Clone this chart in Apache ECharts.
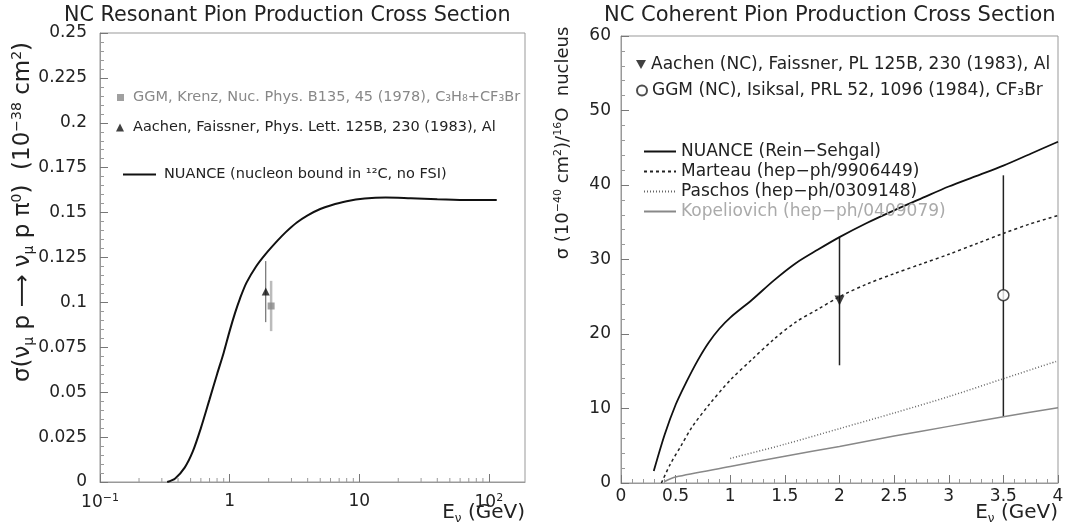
<!DOCTYPE html>
<html>
<head>
<meta charset="utf-8">
<script src="https://cdn.jsdelivr.net/npm/echarts@6/dist/echarts.min.js"></script>
<style>html,body{margin:0;padding:0;background:#fff}#c{width:1067px;height:527px}</style>
</head>
<body>
<div id="c"></div>
<script>
// ---------- Left panel: NC resonant ----------
const resE      = [0.33, 0.38, 0.45, 0.52, 0.6, 0.7, 0.8, 0.9, 1.0, 1.1, 1.2, 1.35, 1.6, 1.9, 2.35, 2.7, 3.3, 4.0, 5.0, 6.0, 8.0, 11, 16, 25, 40, 70, 115];
const resNuance = [0, 0.002, 0.008, 0.017, 0.030, 0.046, 0.060, 0.072, 0.084, 0.094, 0.102, 0.111, 0.120, 0.127, 0.1345, 0.139, 0.1445, 0.1485, 0.152, 0.154, 0.1563, 0.1578, 0.1584, 0.158, 0.1575, 0.157, 0.157];
const resAachen    = [[1.9, 0.106]];
const resAachenErr = [[1.9, 0.089, 0.123]];
const resGgm       = [[2.09, 0.098]];
const resGgmErr    = [[2.09, 0.084, 0.112]];
const logMinorTicks = [0.2,0.3,0.4,0.5,0.6,0.7,0.8,0.9, 2,3,4,5,6,7,8,9, 20,30,40,50,60,70,80,90];

// ---------- Right panel: NC coherent ----------
const cohNuanceE = [0.3, 0.4, 0.5, 0.6, 0.7, 0.8, 0.9, 1.0, 1.2, 1.4, 1.6, 1.8, 2.0, 2.25, 2.5, 2.75, 3.0, 3.25, 3.5, 3.75, 4.0];
const cohNuance  = [1.6, 6.5, 10.5, 13.6, 16.4, 18.8, 20.7, 22.2, 24.6, 27.2, 29.5, 31.3, 33.0, 34.9, 36.6, 38.2, 39.8, 41.2, 42.6, 44.2, 45.8];
const cohMarteauE = [0.37, 0.45, 0.55, 0.65, 0.8, 1.0, 1.2, 1.4, 1.6, 1.8, 2.0, 2.25, 2.5, 2.75, 3.0, 3.25, 3.5, 3.75, 4.0];
const cohMarteau  = [0, 2.5, 5.0, 7.5, 10.4, 13.8, 16.6, 19.3, 21.6, 23.3, 25.0, 26.7, 28.1, 29.4, 30.7, 32.1, 33.5, 34.8, 35.9];
const cohPaschosE = [1.0, 1.5, 2.0, 2.5, 3.0, 3.5, 4.0];
const cohPaschos  = [3.3, 5.2, 7.3, 9.4, 11.6, 14.0, 16.4];
const cohKopelE = [0.4, 0.5, 1.0, 1.5, 2.0, 2.5, 3.0, 3.5, 4.0];
const cohKopel  = [0.2, 0.8, 2.2, 3.6, 4.9, 6.3, 7.6, 8.9, 10.1];
const cohAachen    = [[2.0, 24.5]];
const cohAachenErr = [[2.0, 15.8, 33.0]];
const cohGgm       = [[3.5, 25.2]];
const cohGgmErr    = [[3.5, 8.9, 41.3]];

const FONT = 'DejaVu Sans';
const N_RES_GGM = 'GGM, Krenz, Nuc. Phys. B135, 45 (1978), C₃H₈+CF₃Br';
const N_RES_AAC = 'Aachen, Faissner, Phys. Lett. 125B, 230 (1983), Al';
const N_RES_NUA = 'NUANCE (nucleon bound in ¹²C, no FSI)';
const N_COH_AAC = 'Aachen (NC), Faissner, PL 125B, 230 (1983), Al';
const N_COH_GGM = 'GGM (NC), Isiksal, PRL 52, 1096 (1984), CF₃Br';
const N_COH_NUA = 'NUANCE (Rein−Sehgal)';
const N_COH_MAR = 'Marteau (hep−ph/9906449)';
const N_COH_PAS = 'Paschos (hep−ph/0309148)';
const N_COH_KOP = 'Kopeliovich (hep−ph/0409079)';
const DOWN_TRI = 'path://M0,0L10,0L5,9Z';

const zip = (xs, ys) => xs.map((x, i) => [x, ys[i]]);

function errBar(color, width) {
  return function (params, api) {
    const x = api.value(0);
    const lo = api.coord([x, api.value(1)]);
    const hi = api.coord([x, api.value(2)]);
    return { type: 'line', shape: { x1: lo[0], y1: lo[1], x2: hi[0], y2: hi[1] },
             style: { stroke: color, lineWidth: width } };
  };
}

const axisCommon = {
  axisLine: { show: true, onZero: false, lineStyle: { color: '#999', width: 1 } },
  axisTick: { show: true, inside: true, length: 8, lineStyle: { color: '#777' } },
  minorTick: { show: true, splitNumber: 5, length: 4, lineStyle: { color: '#999' } },
  splitLine: { show: false },
  minorSplitLine: { show: false }
};
const LBL = 17;
const supRich = {
  b: { fontSize: LBL, fontFamily: FONT, color: '#222' },
  s: { fontSize: 11, fontFamily: FONT, color: '#222', verticalAlign: 'top', padding: [0, 0, 8, 0] }
};
const noSym = { color: 'rgba(0,0,0,0)', borderWidth: 0, opacity: 0 };

const chart = echarts.init(document.getElementById('c'), null, { renderer: 'canvas' });

chart.setOption({
  animation: false,
  textStyle: { fontFamily: FONT },
  title: [
    { text: 'NC Resonant Pion Production Cross Section', left: 64, top: 5, padding: 0,
      textStyle: { fontSize: 20.7, fontWeight: 'normal', color: '#222', fontFamily: FONT } },
    { text: 'NC Coherent Pion Production Cross Section', left: 604, top: 5, padding: 0,
      textStyle: { fontSize: 21, fontWeight: 'normal', color: '#222', fontFamily: FONT } }
  ],
  grid: [
    { left: 100, top: 33, width: 425, height: 449, show: true, borderColor: '#999', borderWidth: 1 },
    { left: 621, top: 36, width: 437, height: 447, show: true, borderColor: '#999', borderWidth: 1 }
  ],
  xAxis: [
    Object.assign({}, axisCommon, {
      type: 'log', gridIndex: 0, logBase: 10, min: 0.1, max: 190,
      minorTick: { show: false },
      axisLabel: {
        color: '#222', fontSize: LBL, margin: 11, showMaxLabel: false,
        formatter: function (v) {
          const e = Math.round(Math.log10(v));
          if (Math.abs(Math.log10(v) - e) > 1e-6) return '';
          if (e === 0) return '{b|1}';
          if (e === 1) return '{b|10}';
          return '{b|10}{s|' + (e < 0 ? '−' : '') + Math.abs(e) + '}';
        },
        rich: supRich
      }
    }),
    Object.assign({}, axisCommon, {
      type: 'value', gridIndex: 1, min: 0, max: 4, interval: 0.5,
      axisLabel: { color: '#222', fontSize: LBL, margin: 5, fontFamily: FONT }
    })
  ],
  yAxis: [
    Object.assign({}, axisCommon, {
      type: 'value', gridIndex: 0, min: 0, max: 0.25, interval: 0.025,
      axisLabel: { color: '#222', fontSize: LBL, margin: 13, fontFamily: FONT }
    }),
    Object.assign({}, axisCommon, {
      type: 'value', gridIndex: 1, min: 0, max: 60, interval: 10,
      axisLabel: { color: '#222', fontSize: LBL, margin: 10, fontFamily: FONT }
    })
  ],
  legend: [
    { data: [{ name: N_RES_GGM, textStyle: { color: '#888' } }], left: 117, top: 90, padding: 0,
      itemWidth: 7, itemHeight: 7, selectedMode: false, textStyle: { fontSize: 14.5, color: '#222', padding: [0, 0, 0, 4] } },
    { data: [N_RES_AAC], left: 116, top: 120, padding: 0,
      itemWidth: 8, itemHeight: 8, selectedMode: false, textStyle: { fontSize: 14.5, color: '#222', padding: [0, 0, 0, 4] } },
    { data: [N_RES_NUA], left: 122, top: 167, padding: 0, itemStyle: noSym,
      itemWidth: 33, itemHeight: 10, selectedMode: false, textStyle: { fontSize: 14.5, color: '#222', padding: [0, 0, 0, 3] } },
    { data: [N_COH_AAC], left: 636, top: 56, padding: 0,
      itemWidth: 10, itemHeight: 10, selectedMode: false, textStyle: { fontSize: 17, color: '#222' } },
    { data: [N_COH_GGM], left: 636, top: 82, padding: 0,
      itemWidth: 10, itemHeight: 10, selectedMode: false, textStyle: { fontSize: 17, color: '#222' } },
    { data: [N_COH_NUA, N_COH_MAR, N_COH_PAS, { name: N_COH_KOP, textStyle: { color: '#aaa' } }],
      left: 643, top: 143, padding: 0, orient: 'vertical', itemGap: 3, itemStyle: noSym,
      itemWidth: 32, itemHeight: 14, selectedMode: false, textStyle: { fontSize: 17, color: '#222' } }
  ],
  graphic: [
    { type: 'text', x: 23, y: 212, rotation: Math.PI / 2,
      style: { text: '{a|σ(ν}{s|μ}{a| p ⟶ ν}{s|μ}{a| p π}{p|0}{a|)  (10}{p|−38}{a| cm}{p|2}{a|)}',
        align: 'center', verticalAlign: 'middle', fill: '#222',
        rich: { a: { fontSize: 23, fontFamily: FONT }, s: { fontSize: 14, fontFamily: FONT, padding: [12, 0, 0, 0] },
                p: { fontSize: 14, fontFamily: FONT, padding: [0, 0, 12, 0] } } } },
    { type: 'text', x: 563, y: 143, rotation: Math.PI / 2,
      style: { text: '{a|σ (10}{p|−40}{a| cm}{p|2}{a|)/}{p|16}{a|O  nucleus}',
        align: 'center', verticalAlign: 'middle', fill: '#222',
        rich: { a: { fontSize: 18, fontFamily: FONT }, p: { fontSize: 11, fontFamily: FONT, padding: [0, 0, 10, 0] } } } },
    { type: 'text', x: 525, y: 513,
      style: { text: '{a|E}{s|ν}{a| (GeV)}', align: 'right', verticalAlign: 'middle', fill: '#222',
        rich: { a: { fontSize: 20, fontFamily: FONT }, s: { fontSize: 12, fontFamily: FONT, padding: [11, 0, 0, 0] } } } },
    { type: 'text', x: 1058, y: 513,
      style: { text: '{a|E}{s|ν}{a| (GeV)}', align: 'right', verticalAlign: 'middle', fill: '#222',
        rich: { a: { fontSize: 20, fontFamily: FONT }, s: { fontSize: 12, fontFamily: FONT, padding: [11, 0, 0, 0] } } } }
  ],
  series: [
    // left panel
    { type: 'custom', name: 'logMinor', xAxisIndex: 0, yAxisIndex: 0, silent: true,
      data: logMinorTicks.map(v => [v, 0]),
      renderItem: function (params, api) {
        const p = api.coord([api.value(0), 0]);
        return { type: 'line', shape: { x1: p[0], y1: p[1], x2: p[0], y2: p[1] - 4 }, style: { stroke: '#999', lineWidth: 1 } };
      } },
    { type: 'line', name: N_RES_NUA, xAxisIndex: 0, yAxisIndex: 0, data: zip(resE, resNuance),
      smooth: 0.3, symbol: 'none', lineStyle: { color: '#111', width: 2 }, itemStyle: { color: '#111' } },
    { type: 'custom', name: 'resGgmErr', xAxisIndex: 0, yAxisIndex: 0, data: resGgmErr, silent: true,
      renderItem: errBar('#bbb', 2.5) },
    { type: 'custom', name: 'resAacErr', xAxisIndex: 0, yAxisIndex: 0, data: resAachenErr, silent: true,
      renderItem: errBar('#555', 1) },
    { type: 'scatter', name: N_RES_GGM, xAxisIndex: 0, yAxisIndex: 0, data: resGgm,
      symbol: 'rect', symbolSize: 7, itemStyle: { color: '#888' } },
    { type: 'scatter', name: N_RES_AAC, xAxisIndex: 0, yAxisIndex: 0, data: resAachen,
      symbol: 'triangle', symbolSize: 8, itemStyle: { color: '#111' } },
    // right panel
    { type: 'line', name: N_COH_NUA, xAxisIndex: 1, yAxisIndex: 1, data: zip(cohNuanceE, cohNuance),
      smooth: 0.3, symbol: 'none', lineStyle: { color: '#111', width: 1.8 }, itemStyle: { color: '#111' } },
    { type: 'line', name: N_COH_MAR, xAxisIndex: 1, yAxisIndex: 1, data: zip(cohMarteauE, cohMarteau),
      smooth: 0.3, symbol: 'none', lineStyle: { color: '#222', width: 1.5, type: [3, 3] }, itemStyle: { color: '#222' } },
    { type: 'line', name: N_COH_PAS, xAxisIndex: 1, yAxisIndex: 1, data: zip(cohPaschosE, cohPaschos),
      smooth: 0.3, symbol: 'none', lineStyle: { color: '#666', width: 1.5, type: [1, 2] }, itemStyle: { color: '#666' } },
    { type: 'line', name: N_COH_KOP, xAxisIndex: 1, yAxisIndex: 1, data: zip(cohKopelE, cohKopel),
      smooth: 0.3, symbol: 'none', lineStyle: { color: '#888', width: 1.5 }, itemStyle: { color: '#888' } },
    { type: 'custom', name: 'cohAacErr', xAxisIndex: 1, yAxisIndex: 1, data: cohAachenErr, silent: true,
      renderItem: errBar('#222', 1.5) },
    { type: 'custom', name: 'cohGgmErr', xAxisIndex: 1, yAxisIndex: 1, data: cohGgmErr, silent: true,
      renderItem: errBar('#222', 1.5) },
    { type: 'scatter', name: N_COH_AAC, xAxisIndex: 1, yAxisIndex: 1, data: cohAachen,
      symbol: DOWN_TRI, symbolSize: 10, itemStyle: { color: '#111' } },
    { type: 'scatter', name: N_COH_GGM, xAxisIndex: 1, yAxisIndex: 1, data: cohGgm,
      symbol: 'circle', symbolSize: 11, itemStyle: { color: '#fff', borderColor: '#222', borderWidth: 1.5 } }
  ]
});
</script>
</body>
</html>
